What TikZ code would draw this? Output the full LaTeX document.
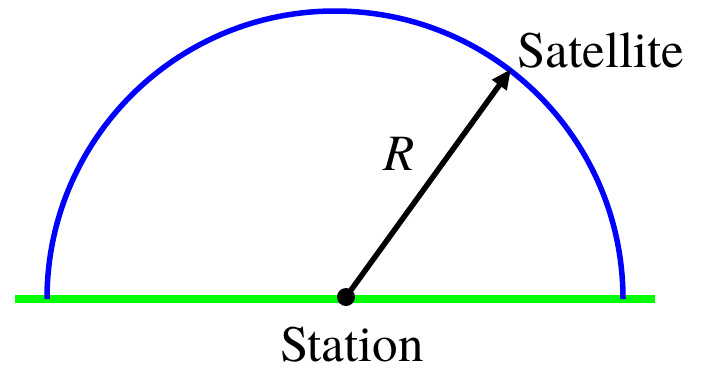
\documentclass[tikz,border=0pt]{standalone}
\usepackage{fontspec}
\setmainfont{texgyretermes-regular.otf}[ItalicFont=texgyretermes-italic.otf]
\usetikzlibrary{arrows.meta}
\begin{document}
\begin{tikzpicture}[x=1pt,y=-1pt,
  lbl/.style={font=\fontsize{51}{51}\selectfont, anchor=base, inner sep=0pt},
  ground/.style={draw={rgb,255:red,0;green,255;blue,0}, line width=8pt},
  orbit/.style={draw={rgb,255:red,0;green,0;blue,255}, line width=5.5pt},
  radius line/.style={draw=black, line width=5.5pt, -{Triangle[length=20pt,width=17pt]}}]
\useasboundingbox (0,0) rectangle (709,368);
\draw[ground] (15,299) -- (655,299);
\draw[orbit] (47,299) arc[start angle=180, end angle=360, radius=288];
\node[circle, fill=black, minimum size=18pt, inner sep=0pt] (st) at (346,297) {};
\coordinate (sat) at (511,69);
\draw[radius line] (st.center) -- (sat);
\node[lbl] (satl) at (601,67) {Satellite};
\node[lbl] (stl) at (352,361) {Station};
\node[lbl] (r) at (399,170) {\itshape R};
\end{tikzpicture}
\end{document}
